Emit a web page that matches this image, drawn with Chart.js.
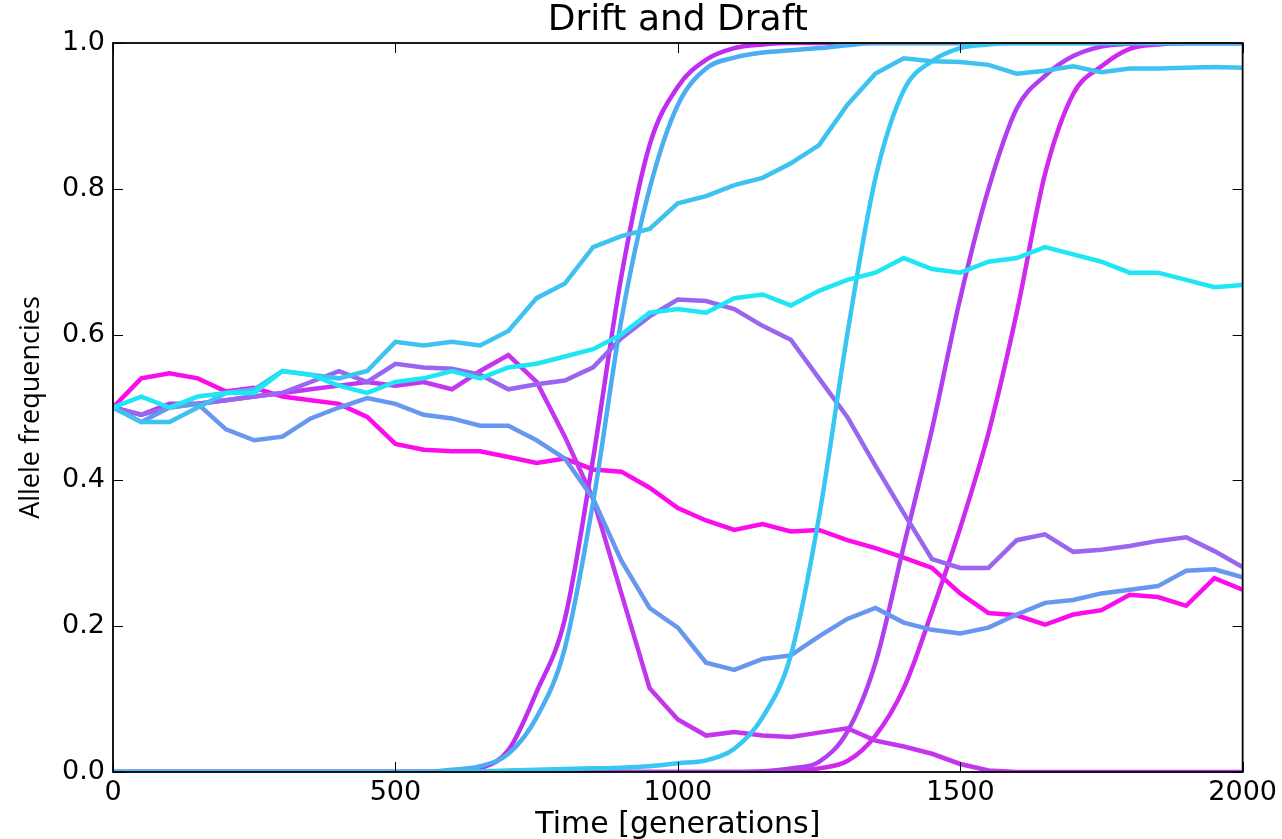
<!DOCTYPE html>
<html>
<head>
<meta charset="utf-8">
<title>Drift and Draft</title>
<script src="https://cdn.jsdelivr.net/npm/chart.js@4.4.1/dist/chart.umd.min.js"></script>
<style>
  html, body { margin: 0; padding: 0; background: #fff; }
  #wrap { width: 1282px; height: 839px; }
</style>
</head>
<body>
<div id="wrap"><canvas id="driftChart"></canvas></div>
<script>
// generations (x values)
const generations = [0, 50, 100, 150, 200, 250, 300, 350, 400, 450, 500, 550, 600, 650, 700, 750, 800, 850, 900, 950,
  1000, 1050, 1100, 1150, 1200, 1250, 1300, 1350, 1400, 1450, 1500, 1550, 1600, 1650, 1700, 1750, 1800, 1850, 1900, 1950, 2000];

const xTicks = [0, 500, 1000, 1500, 2000];
const yTicks = [0.0, 0.2, 0.4, 0.6, 0.8, 1.0];

// neutral / hitchhiking alleles (drift + draft)
const freqCyan = [0.50, 0.515, 0.50, 0.515, 0.52, 0.52, 0.55, 0.545, 0.53, 0.52, 0.535, 0.54, 0.55, 0.54, 0.555, 0.56, 0.57, 0.58, 0.60, 0.63,
  0.635, 0.63, 0.65, 0.655, 0.64, 0.66, 0.675, 0.685, 0.705, 0.69, 0.685, 0.70, 0.705, 0.72, 0.71, 0.70, 0.685, 0.685, 0.675, 0.665, 0.668];
const freqSky = [0.50, 0.48, 0.48, 0.50, 0.52, 0.525, 0.55, 0.545, 0.54, 0.55, 0.59, 0.585, 0.59, 0.585, 0.605, 0.65, 0.67, 0.72, 0.735, 0.745,
  0.78, 0.79, 0.805, 0.815, 0.835, 0.86, 0.915, 0.958, 0.979, 0.975, 0.974, 0.97, 0.958, 0.962, 0.968, 0.96, 0.965, 0.965, 0.966, 0.967, 0.966];
const freqBlue = [0.50, 0.48, 0.50, 0.505, 0.47, 0.455, 0.46, 0.485, 0.50, 0.513, 0.505, 0.49, 0.485, 0.475, 0.475, 0.455, 0.43, 0.375, 0.29, 0.225,
  0.198, 0.15, 0.14, 0.155, 0.16, 0.186, 0.21, 0.225, 0.205, 0.195, 0.19, 0.198, 0.216, 0.232, 0.236, 0.245, 0.25, 0.255, 0.276, 0.278, 0.267];
const freqViolet = [0.50, 0.49, 0.50, 0.505, 0.51, 0.515, 0.52, 0.535, 0.55, 0.535, 0.56, 0.555, 0.553, 0.545, 0.525, 0.532, 0.537, 0.555, 0.595, 0.625,
  0.648, 0.646, 0.635, 0.612, 0.593, 0.54, 0.487, 0.42, 0.355, 0.292, 0.28, 0.28, 0.318, 0.326, 0.302, 0.305, 0.31, 0.317, 0.322, 0.303, 0.281];
const freqPurple = [0.50, 0.49, 0.505, 0.505, 0.51, 0.515, 0.52, 0.525, 0.53, 0.535, 0.53, 0.535, 0.525, 0.55, 0.572, 0.535, 0.46, 0.375, 0.245, 0.115,
  0.072, 0.05, 0.055, 0.05, 0.048, 0.054, 0.06, 0.043, 0.035, 0.025, 0.011, 0.002, 0, 0, 0, 0, 0, 0, 0, 0, 0];
const freqMagenta = [0.50, 0.54, 0.547, 0.54, 0.522, 0.527, 0.515, 0.51, 0.505, 0.487, 0.45, 0.442, 0.44, 0.44, 0.432, 0.424, 0.43, 0.415, 0.412, 0.39,
  0.362, 0.345, 0.332, 0.34, 0.33, 0.332, 0.318, 0.307, 0.294, 0.28, 0.245, 0.218, 0.215, 0.202, 0.216, 0.222, 0.243, 0.24, 0.228, 0.266, 0.25];

// beneficial mutations sweeping to fixation
const sweepBlue1 = [0, 0, 0, 0, 0, 0, 0, 0, 0, 0, 0, 0, 0.003, 0.008, 0.025, 0.075, 0.17, 0.37, 0.62, 0.80,
  0.915, 0.965, 0.98, 0.987, 0.99, 0.993, 0.997, 1, 1, 1, 1, 1, 1, 1, 1, 1, 1, 1, 1, 1, 1];
const sweepBlue2 = [0, 0, 0, 0, 0, 0, 0, 0, 0, 0, 0, 0, 0, 0.001, 0.002, 0.003, 0.004, 0.005, 0.006, 0.008,
  0.012, 0.016, 0.032, 0.075, 0.16, 0.35, 0.60, 0.815, 0.935, 0.975, 0.993, 0.998, 1, 1, 1, 1, 1, 1, 1, 1, 1];
const sweepPink1 = [0, 0, 0, 0, 0, 0, 0, 0, 0, 0, 0, 0, 0, 0.005, 0.03, 0.11, 0.21, 0.43, 0.68, 0.86,
  0.94, 0.977, 0.993, 0.998, 1, 1, 1, 1, 1, 1, 1, 1, 1, 1, 1, 1, 1, 1, 1, 1, 1];
const sweepPink2 = [0, 0, 0, 0, 0, 0, 0, 0, 0, 0, 0, 0, 0, 0, 0, 0, 0, 0, 0, 0,
  0, 0, 0, 0.001, 0.005, 0.014, 0.055, 0.15, 0.31, 0.47, 0.65, 0.80, 0.91, 0.955, 0.982, 0.995, 0.999, 1, 1, 1, 1];
const sweepPink3 = [0, 0, 0, 0, 0, 0, 0, 0, 0, 0, 0, 0, 0, 0, 0, 0, 0, 0, 0, 0,
  0, 0, 0, 0, 0.002, 0.005, 0.015, 0.05, 0.115, 0.22, 0.335, 0.465, 0.63, 0.82, 0.93, 0.968, 0.992, 0.998, 1, 1, 1];

const chartTitle = 'Drift and Draft';

function pts(arr) {
  return arr.map((v, i) => ({ x: generations[i], y: v }));
}

function drift(values, color) {
  return { data: pts(values), borderColor: color, borderWidth: 4.5, pointRadius: 0, tension: 0, fill: false };
}

function sweep(values, color) {
  return { data: pts(values), borderColor: color, borderWidth: 4.5, pointRadius: 0, cubicInterpolationMode: 'monotone', fill: false };
}

// box around the axes with matplotlib-style inward ticks on all four sides, title centred over the axes
const frameTicks = {
  id: 'frameTicks',
  afterDatasetsDraw(chart) {
    const { ctx, chartArea: a, scales: { x, y } } = chart;
    ctx.save();
    ctx.strokeStyle = '#000';
    ctx.lineWidth = 1.8;
    ctx.strokeRect(a.left, a.top, a.right - a.left, a.bottom - a.top);
    ctx.lineWidth = 1;
    ctx.beginPath();
    x.ticks.forEach(t => {
      const px = Math.round(x.getPixelForValue(t.value)) + 0.5;
      ctx.moveTo(px, a.bottom); ctx.lineTo(px, a.bottom - 10);
      ctx.moveTo(px, a.top); ctx.lineTo(px, a.top + 10);
    });
    y.ticks.forEach(t => {
      const py = Math.round(y.getPixelForValue(t.value)) + 0.5;
      ctx.moveTo(a.left, py); ctx.lineTo(a.left + 10, py);
      ctx.moveTo(a.right, py); ctx.lineTo(a.right - 10, py);
    });
    ctx.stroke();

    ctx.fillStyle = '#000';
    ctx.font = "36px 'DejaVu Sans', sans-serif";
    ctx.textAlign = 'center';
    ctx.textBaseline = 'middle';
    ctx.fillText(chartTitle, (a.left + a.right) / 2, 21);
    ctx.restore();
  }
};

document.addEventListener('DOMContentLoaded', function () {
  const ctx = document.getElementById('driftChart').getContext('2d');

  new Chart(ctx, {
    type: 'line',
    data: {
      datasets: [
        drift(freqCyan, '#1fe6f4'),
        drift(freqSky, '#3ec2f0'),
        sweep(sweepBlue2, '#38c6f2'),
        sweep(sweepBlue1, '#4aaef0'),
        drift(freqBlue, '#6797ee'),
        drift(freqViolet, '#9a66f0'),
        sweep(sweepPink2, '#b13ff0'),
        drift(freqPurple, '#c435ee'),
        sweep(sweepPink1, '#bf2df0'),
        sweep(sweepPink3, '#d028ee'),
        drift(freqMagenta, '#fb0cec')
      ]
    },
    options: {
      responsive: true,
      maintainAspectRatio: false,
      animation: false,
      layout: { padding: { left: 0, right: 39, top: 43, bottom: 0 } },
      plugins: {
        legend: { display: false },
        tooltip: { enabled: false },
        title: { display: false }
      },
      scales: {
        x: {
          type: 'linear',
          min: 0,
          max: 2000,
          afterFit(scale) { scale.height = 67; },
          afterBuildTicks(scale) { scale.ticks = xTicks.map(v => ({ value: v })); },
          grid: { display: false, drawTicks: false },
          border: { display: false },
          ticks: {
            color: '#000',
            padding: 5,
            maxRotation: 0,
            font: { family: "'DejaVu Sans', sans-serif", size: 27 },
            callback: v => String(v)
          },
          title: {
            display: true,
            text: 'Time [generations]',
            color: '#000',
            font: { family: "'DejaVu Sans', sans-serif", size: 30 },
            padding: { top: 0, bottom: -4 }
          }
        },
        y: {
          type: 'linear',
          min: 0,
          max: 1,
          afterFit(scale) { scale.width = 113; },
          afterBuildTicks(scale) { scale.ticks = yTicks.map(v => ({ value: v })); },
          grid: { display: false, drawTicks: false },
          border: { display: false },
          ticks: {
            color: '#000',
            padding: 8,
            font: { family: "'DejaVu Sans', sans-serif", size: 27 },
            callback: v => v.toFixed(1)
          },
          title: {
            display: true,
            text: 'Allele frequencies',
            color: '#000',
            font: { family: "'Open Sans', sans-serif", size: 27 },
            padding: { top: 15, bottom: 0 }
          }
        }
      }
    },
    plugins: [frameTicks]
  });
});
</script>
</body>
</html>
